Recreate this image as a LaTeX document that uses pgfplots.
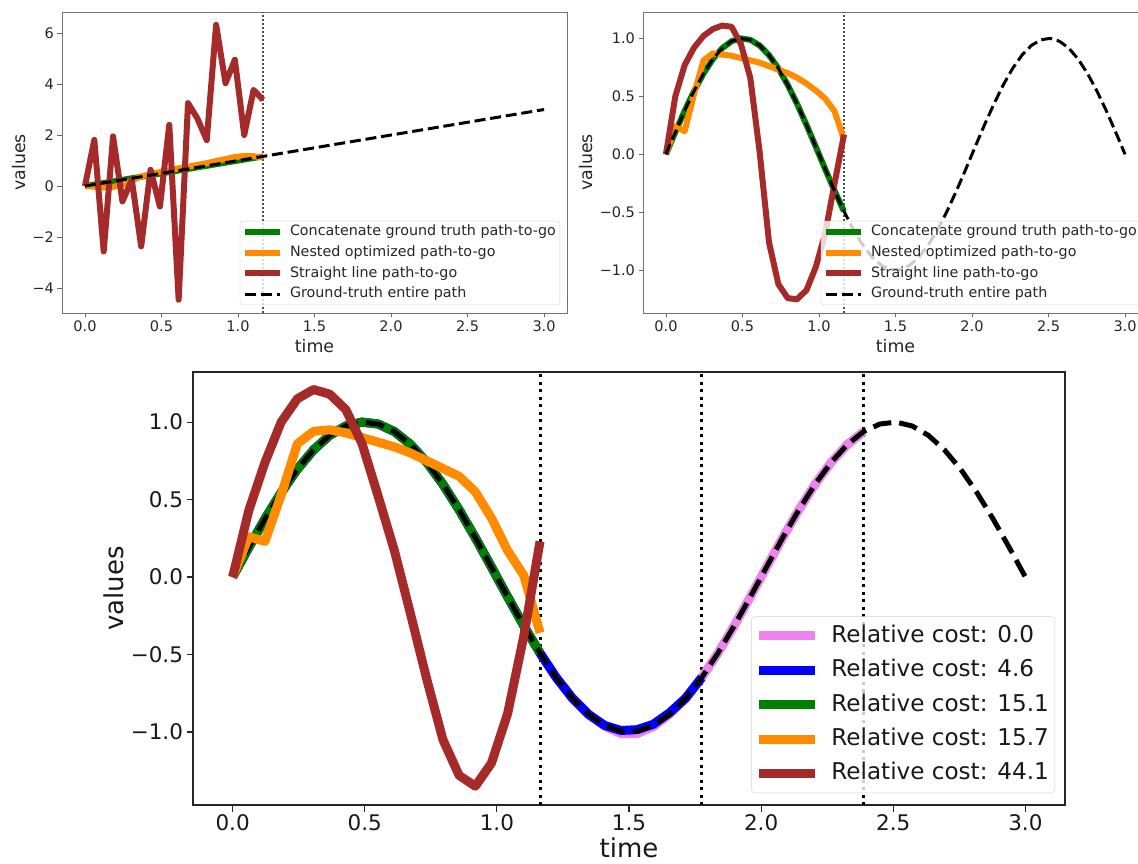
\documentclass[border=0pt]{standalone}
\usepackage{fontspec}
\setmainfont{DejaVu Sans}
\usepackage{pgfplots}
\usepackage{pgfplotstable}
\pgfplotsset{compat=1.18}

\definecolor{mgreen}{HTML}{008000}
\definecolor{morange}{HTML}{FF8C00}
\definecolor{mbrown}{HTML}{A52A2A}
\definecolor{mviolet}{HTML}{EE82EE}
\definecolor{mblue}{HTML}{0000FF}
\definecolor{txt}{HTML}{262626}

% ground truth sine path (t, y)
\pgfplotstableread{
t y
0.0000 0.0000
0.0612 0.1912
0.1224 0.3753
0.1837 0.5455
0.2449 0.6959
0.3061 0.8204
0.3673 0.9145
0.4286 0.9749
0.4898 0.9995
0.5510 0.9872
0.6122 0.9384
0.6735 0.8550
0.7347 0.7406
0.7959 0.5982
0.8571 0.4339
0.9184 0.2537
0.9796 0.0641
1.0408 -0.1279
1.1020 -0.3151
1.1633 -0.4907
1.2245 -0.6482
1.2857 -0.7818
1.3469 -0.8862
1.4082 -0.9580
1.4694 -0.9950
1.5306 -0.9950
1.5918 -0.9580
1.6531 -0.8862
1.7143 -0.7818
1.7755 -0.6482
1.8367 -0.4907
1.8980 -0.3151
1.9592 -0.1279
2.0204 0.0641
2.0816 0.2537
2.1429 0.4339
2.2041 0.5982
2.2653 0.7406
2.3265 0.8550
2.3878 0.9384
2.4490 0.9872
2.5102 0.9995
2.5714 0.9749
2.6327 0.9145
2.6939 0.8204
2.7551 0.6959
2.8163 0.5455
2.8776 0.3753
2.9388 0.1912
3.0000 0.0000
}\gt

% ground truth path-to-go (first 20 points)
\pgfplotstableread{
t y
0.0000 0.0000
0.0612 0.1912
0.1224 0.3753
0.1837 0.5455
0.2449 0.6959
0.3061 0.8204
0.3673 0.9145
0.4286 0.9749
0.4898 0.9995
0.5510 0.9872
0.6122 0.9384
0.6735 0.8550
0.7347 0.7406
0.7959 0.5982
0.8571 0.4339
0.9184 0.2537
0.9796 0.0641
1.0408 -0.1279
1.1020 -0.3151
1.1633 -0.4907
}\gtgo

% bottom panel: pink path
\pgfplotstableread{
t p
0.0000 0.0000
0.0612 0.1912
0.1224 0.3753
0.1837 0.5455
0.2449 0.6959
0.3061 0.8204
0.3673 0.9145
0.4286 0.9749
0.4898 0.9995
0.5510 0.9872
0.6122 0.9384
0.6735 0.8550
0.7347 0.7406
0.7959 0.5982
0.8571 0.4339
0.9184 0.2537
0.9796 0.0641
1.0408 -0.1279
1.1020 -0.3151
1.1633 -0.4907
1.2245 -0.6482
1.2857 -0.7818
1.3469 -0.8862
1.4082 -0.9620
1.4694 -1.0100
1.5306 -1.0100
1.5918 -0.9650
1.6531 -0.8862
1.7143 -0.7818
1.7755 -0.6482
1.8367 -0.4907
1.8980 -0.3151
1.9592 -0.1279
2.0204 0.0641
2.0816 0.2537
2.1429 0.4339
2.2041 0.5982
2.2653 0.7406
2.3265 0.8550
2.3878 0.9384
}\pink

% bottom panel: blue path
\pgfplotstableread{
t b
0.0000 0.0000
0.0612 0.1912
0.1224 0.3753
0.1837 0.5455
0.2449 0.6959
0.3061 0.8204
0.3673 0.9145
0.4286 0.9749
0.4898 0.9995
0.5510 0.9872
0.6122 0.9384
0.6735 0.8550
0.7347 0.7406
0.7959 0.5982
0.8571 0.4339
0.9184 0.2537
0.9796 0.0641
1.0408 -0.1279
1.1020 -0.3151
1.1633 -0.4907
1.2245 -0.6482
1.2857 -0.7818
1.3469 -0.8862
1.4082 -0.9580
1.4694 -0.9900
1.5306 -0.9850
1.5918 -0.9500
1.6531 -0.8762
1.7143 -0.7818
1.7755 -0.6482
}\blue

% bottom panel: orange and brown paths
\pgfplotstableread{
t o b
0.0000 0.00 0.00
0.0612 0.26 0.43
0.1224 0.23 0.74
0.1837 0.53 1.00
0.2449 0.86 1.15
0.3061 0.94 1.21
0.3673 0.95 1.18
0.4286 0.93 1.08
0.4898 0.90 0.86
0.5510 0.87 0.52
0.6122 0.84 0.17
0.6735 0.80 -0.24
0.7347 0.75 -0.66
0.7959 0.70 -1.05
0.8571 0.65 -1.28
0.9184 0.55 -1.35
0.9796 0.38 -1.20
1.0408 0.17 -0.88
1.1020 0.01 -0.38
1.1633 -0.36 0.23
}\botob

% top-right panel: orange and brown paths
\pgfplotstableread{
t o b
0.0000 0.00 0.00
0.0612 0.24 0.50
0.1224 0.20 0.77
0.1837 0.52 0.92
0.2449 0.81 1.02
0.3061 0.87 1.08
0.3673 0.86 1.11
0.4286 0.85 1.10
0.4898 0.83 0.95
0.5510 0.81 0.66
0.6122 0.79 0.02
0.6735 0.76 -0.76
0.7347 0.73 -1.12
0.7959 0.70 -1.24
0.8571 0.66 -1.25
0.9184 0.61 -1.17
0.9796 0.55 -0.97
1.0408 0.48 -0.68
1.1020 0.37 -0.25
1.1633 0.13 0.17
}\trob

% top-left panel: green, orange and brown paths
\pgfplotstableread{
t g o b
0.0000 0.0000 0.00 0.00
0.0612 0.0612 -0.02 1.81
0.1224 0.1224 -0.05 -2.56
0.1837 0.1837 -0.03 1.95
0.2449 0.2449 0.05 -0.60
0.3061 0.3061 0.22 0.25
0.3673 0.3673 0.38 -2.36
0.4286 0.4286 0.47 0.64
0.4898 0.4898 0.55 -0.80
0.5510 0.5510 0.62 2.40
0.6122 0.6122 0.70 -4.45
0.6735 0.6735 0.76 3.25
0.7347 0.7347 0.83 2.65
0.7959 0.7959 0.90 1.80
0.8571 0.8571 0.98 6.32
0.9184 0.9184 1.06 4.03
0.9796 0.9796 1.14 4.95
1.0408 1.0408 1.18 2.00
1.1020 1.1020 1.17 3.77
1.1633 1.1633 1.12 3.38
}\tl

\pgfplotsset{
  every axis plot/.append style={line join=round},
  topax/.style={
    scale only axis, width=505pt, height=301pt,
    xmin=-0.15, xmax=3.15,
    tick align=outside, tick pos=left, major tick length=4.5pt,
    axis line style={black!55, line width=0.9pt},
    every tick/.style={black!60, line width=0.8pt},
    tick label style={font=\fontsize{14.5}{16}\selectfont, text=txt},
    label style={font=\fontsize{17.4}{19}\selectfont, text=txt},
    xtick={0,0.5,1,1.5,2,2.5,3},
    xticklabels={0.0,0.5,1.0,1.5,2.0,2.5,3.0},
    xlabel={time}, ylabel={values},
    legend cell align=left,
    legend style={at={(1,0)}, anchor=south east, xshift=-7pt, yshift=8pt,
      draw=black!18, rounded corners=2.5pt, fill=white, fill opacity=0.8,
      draw opacity=1, text opacity=1,
      font=\fontsize{14.3}{16}\selectfont, text=txt,
      inner xsep=2pt, inner ysep=1.5pt, row sep=2.2pt, column sep=5pt,
      nodes={inner sep=2pt, text height=11pt, text depth=3.5pt}},
    legend image code/.code={\draw[##1, line cap=butt] (0pt,0pt) -- (35pt,0pt);},
  },
}

\begin{document}
\begin{tikzpicture}
\useasboundingbox (0,0) rectangle (1138pt,863pt);

% ---------------- top-left ----------------
\begin{axis}[topax, at={(62pt,851pt)}, anchor=north west,
  ymin=-4.97, ymax=6.82,
  ytick={-4,-2,0,2,4,6}, yticklabels={−4,−2,0,2,4,6}]
\addplot[forget plot, black!70, line width=1.5pt, dash pattern=on 1.5pt off 2.5pt] coordinates {(1.1633,-4.97) (1.1633,6.82)};
\addplot[mgreen, line width=6pt] table[x=t, y=g] {\tl};
\addplot[morange, line width=6pt] table[x=t, y=o] {\tl};
\addplot[mbrown, line width=6pt] table[x=t, y=b] {\tl};
\addplot[black, line width=3pt, dash pattern=on 11pt off 4.8pt] coordinates {(0,0) (3,3)};
\legend{Concatenate ground truth path-to-go, Nested optimized path-to-go, Straight line path-to-go, Ground-truth entire path}
\end{axis}

% ---------------- top-right ----------------
\begin{axis}[topax, at={(643pt,851pt)}, anchor=north west,
  ymin=-1.368, ymax=1.227,
  ytick={-1,-0.5,0,0.5,1}, yticklabels={−1.0,−0.5,0.0,0.5,1.0}]
\addplot[forget plot, black!70, line width=1.5pt, dash pattern=on 1.5pt off 2.5pt] coordinates {(1.1633,-1.368) (1.1633,1.227)};
\addplot[mgreen, line width=6pt] table[x=t, y=y] {\gtgo};
\addplot[morange, line width=6pt] table[x=t, y=o] {\trob};
\addplot[mbrown, line width=6pt] table[x=t, y=b] {\trob};
\addplot[black, line width=3pt, dash pattern=on 11pt off 4.8pt] table[x=t, y=y] {\gt};
\legend{Concatenate ground truth path-to-go, Nested optimized path-to-go, Straight line path-to-go, Ground-truth entire path}
\end{axis}

% ---------------- bottom ----------------
\begin{axis}[scale only axis, width=872pt, height=433pt,
  at={(193pt,491pt)}, anchor=north west,
  xmin=-0.15, xmax=3.15, ymin=-1.471, ymax=1.323,
  tick align=outside, tick pos=left, major tick length=6.5pt,
  axis line style={black!85, line width=1.2pt},
  every tick/.style={black!85, line width=1.1pt},
  tick label style={font=\fontsize{21.5}{24}\selectfont, text=black!90},
  label style={font=\fontsize{26}{29}\selectfont, text=black!90},
  xtick={0,0.5,1,1.5,2,2.5,3},
  xticklabels={0.0,0.5,1.0,1.5,2.0,2.5,3.0},
  ytick={-1,-0.5,0,0.5,1}, yticklabels={−1.0,−0.5,0.0,0.5,1.0},
  xlabel={time}, ylabel={values},
  legend cell align=left,
  legend style={at={(1,0)}, anchor=south east, xshift=-10pt, yshift=12pt,
    draw=black!18, rounded corners=3.5pt, fill=white, fill opacity=0.8,
    draw opacity=1, text opacity=1,
    font=\fontsize{23.1}{26}\selectfont, text=black!90,
    inner xsep=3pt, inner ysep=4.5pt, row sep=4.9pt, column sep=9pt,
    nodes={inner sep=3pt, text height=18pt, text depth=5.5pt}},
  legend image code/.code={\draw[#1, line cap=butt] (0pt,0pt) -- (56pt,0pt);},
]
\addplot[forget plot, black, line width=3pt, dash pattern=on 3pt off 4.5pt] coordinates {(1.1633,-1.471) (1.1633,1.323)};
\addplot[forget plot, black, line width=3pt, dash pattern=on 3pt off 4.5pt] coordinates {(1.7755,-1.471) (1.7755,1.323)};
\addplot[forget plot, black, line width=3pt, dash pattern=on 3pt off 4.5pt] coordinates {(2.3878,-1.471) (2.3878,1.323)};
\addplot[mviolet, line width=9pt] table[x=t, y=p] {\pink};
\addplot[mblue, line width=9pt] table[x=t, y=b] {\blue};
\addplot[mgreen, line width=9pt] table[x=t, y=y] {\gtgo};
\addplot[forget plot, black, line width=5pt, dash pattern=on 18.5pt off 8pt] table[x=t, y=y] {\gt};
\addplot[morange, line width=9pt] table[x=t, y=o] {\botob};
\addplot[mbrown, line width=9pt] table[x=t, y=b] {\botob};
\legend{Relative cost: 0.0, Relative cost: 4.6, Relative cost: 15.1, Relative cost: 15.7, Relative cost: 44.1}
\end{axis}
\end{tikzpicture}
\end{document}
